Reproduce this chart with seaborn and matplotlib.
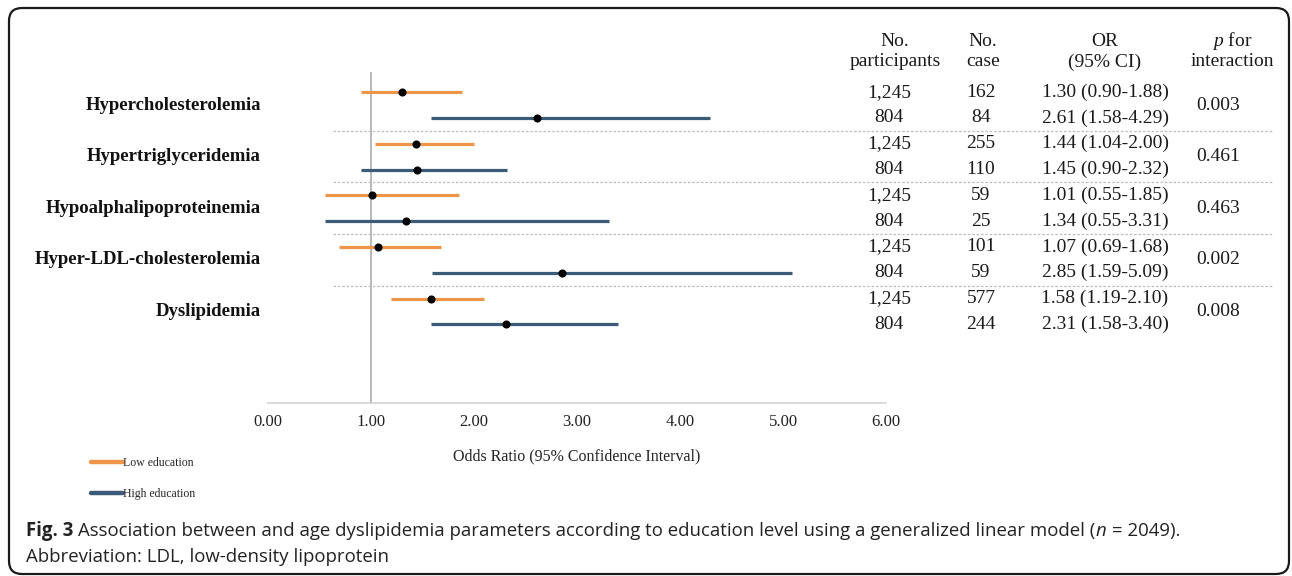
import matplotlib
matplotlib.use("Agg")
import matplotlib.pyplot as plt
from matplotlib.patches import FancyBboxPatch
from matplotlib.lines import Line2D
import matplotlib.transforms as mtransforms
import numpy as np
import pandas as pd
import seaborn as sns

# ---- data -------------------------------------------------------------
outcomes = ["Hypercholesterolemia", "Hypertriglyceridemia", "Hypoalphalipoproteinemia",
            "Hyper-LDL-cholesterolemia", "Dyslipidemia"]
groups = ["Low education", "High education"]
n_participants = ["1,245", "804"]
low_or = [1.30, 1.44, 1.01, 1.07, 1.58]
low_lo = [0.90, 1.04, 0.55, 0.69, 1.19]
low_hi = [1.88, 2.00, 1.85, 1.68, 2.10]
high_or = [2.61, 1.45, 1.34, 2.85, 2.31]
high_lo = [1.58, 0.90, 0.55, 1.59, 1.58]
high_hi = [4.29, 2.32, 3.31, 5.09, 3.40]
low_cases = [162, 255, 59, 101, 577]
high_cases = [84, 110, 25, 59, 244]
p_interaction = ["0.003", "0.461", "0.463", "0.002", "0.008"]
x_ticks = [0, 1, 2, 3, 4, 5, 6]

# ---- long table -------------------------------------------------------
rows = []
for i, name in enumerate(outcomes):
    rows.append(dict(outcome=name, group=groups[0], n=n_participants[0], cases=low_cases[i],
                     OR=low_or[i], lo=low_lo[i], hi=low_hi[i], row=2 * i))
    rows.append(dict(outcome=name, group=groups[1], n=n_participants[1], cases=high_cases[i],
                     OR=high_or[i], lo=high_lo[i], hi=high_hi[i], row=2 * i + 1))
df = pd.DataFrame(rows)

W, H = 1292, 576
sns.set_theme(style="white")
plt.rcParams["font.family"] = ["Liberation Serif", "DejaVu Serif"]
plt.rcParams["mathtext.fontset"] = "custom"
plt.rcParams["mathtext.it"] = "Liberation Serif:italic"
plt.rcParams["mathtext.rm"] = "Liberation Serif"

fig = plt.figure(figsize=(W / 100, H / 100), dpi=100)
fig.patch.set_facecolor("white")

def fx(px):
    return px / W

def fy(py):
    return 1 - py / H

# frame around the whole figure
bg = fig.add_axes([0, 0, 1, 1], zorder=-5)
bg.set_xlim(0, W)
bg.set_ylim(H, 0)
bg.axis("off")
bg.add_patch(FancyBboxPatch((9, 8), 1280, 566, boxstyle="round,pad=0,rounding_size=13",
                            fc="white", ec="#1a1a1a", lw=1.6))

# forest plot axes: x in odds-ratio units, y in row index
ax = fig.add_axes([fx(268), fy(403), fx(886) - fx(268), fy(72) - fy(403)])
ax.set_xlim(0, 6)
ax.set_ylim(12.05, -0.78)
ax.set_facecolor("none")

palette = {"Low education": "#EF9549", "High education": "#3B5B78"}
for g in groups:
    sub = df[df.group == g]
    ax.hlines(sub.row, sub.lo, sub.hi, color=palette[g], lw=2.3, zorder=2)
sns.scatterplot(data=df, x="OR", y="row", color="black", s=34, edgecolor="black",
                linewidth=0, zorder=3, ax=ax, legend=False)
ax.axvline(1, color="#a6a6a6", lw=1.1, zorder=1)

for s in ["top", "right", "left"]:
    ax.spines[s].set_visible(False)
ax.spines["bottom"].set_color("#d0d0d0")
ax.spines["bottom"].set_linewidth(1.1)
ax.set_xticks(x_ticks)
ax.set_xticklabels([f"{t:.2f}" for t in x_ticks], fontsize=12)
ax.tick_params(axis="x", length=0, pad=8, colors="#222222")
ax.set_yticks([])
ax.set_xlabel("Odds Ratio (95% Confidence Interval)", fontsize=11.5, labelpad=13, color="#222222")
ax.set_ylabel("")

trans = mtransforms.blended_transform_factory(fig.transFigure, ax.transData)

# outcome labels and dashed separators
for i, name in enumerate(outcomes):
    ax.text(fx(261), 2 * i + 0.5, name, transform=trans, ha="right", va="center",
            fontsize=13.5, fontweight="bold", color="#111111")
    if i < len(outcomes) - 1:
        ax.plot([fx(333), fx(1272)], [2 * i + 1.5] * 2, transform=trans, clip_on=False,
                color="#bdbdbd", lw=0.9, ls=(0, (2, 1.5)))
    ax.text(fx(1218), 2 * i + 0.5, p_interaction[i], transform=trans, ha="center",
            va="center", fontsize=14, color="#1a1a1a")

# table columns
for _, r in df.iterrows():
    ax.text(fx(889), r.row, r.n, transform=trans, ha="center", va="center", fontsize=14, color="#1a1a1a")
    ax.text(fx(981), r.row, f"{r.cases}", transform=trans, ha="center", va="center", fontsize=14, color="#1a1a1a")
    ax.text(fx(1105), r.row, f"{r.OR:.2f} ({r.lo:.2f}-{r.hi:.2f})", transform=trans,
            ha="center", va="center", fontsize=14, color="#1a1a1a")

# table headers
hdr = dict(ha="center", va="center", fontsize=14, color="#1a1a1a")
fig.text(fx(895), fy(41), "No.", **hdr)
fig.text(fx(895), fy(62), "participants", **hdr)
fig.text(fx(983), fy(41), "No.", **hdr)
fig.text(fx(983), fy(62), "case", **hdr)
fig.text(fx(1105), fy(41), "OR", **hdr)
fig.text(fx(1105), fy(62), "(95% CI)", **hdr)
fig.text(fx(1232), fy(41), r"$p$ for", **hdr)
fig.text(fx(1232), fy(62), "interaction", **hdr)

# legend
handles = [Line2D([], [], color=palette[g], lw=3.2) for g in groups]
fig.legend(handles, groups, loc="upper left", bbox_to_anchor=(fx(91), fy(457)),
           frameon=False, fontsize=8.5, handlelength=2.7, handletextpad=0.05,
           labelspacing=1.6, borderpad=0, borderaxespad=0)

# caption, written piece by piece so the bold label and italic n sit inline
cap = dict(family=["Open Sans", "DejaVu Sans"], fontsize=13.45, color="#222222", va="center")
pieces = [("Fig. 3", dict(fontweight="bold"), 5),
          ("Association between and age dyslipidemia parameters according to education level "
           "using a generalized linear model (", {}, 0),
          ("n", dict(fontstyle="italic"), 2),
          ("= 2049).", {}, 0)]
x_px = 26
for txt, style, gap in pieces:
    t = fig.text(fx(x_px), fy(531), txt, **cap, **style)
    fig.canvas.draw()
    x_px = t.get_window_extent().x1 + gap + (4 if txt == "n" else 0)
fig.text(fx(26), fy(557), "Abbreviation: LDL, low-density lipoprotein", **cap)

fig.savefig("out.png", dpi=100, facecolor="white")
